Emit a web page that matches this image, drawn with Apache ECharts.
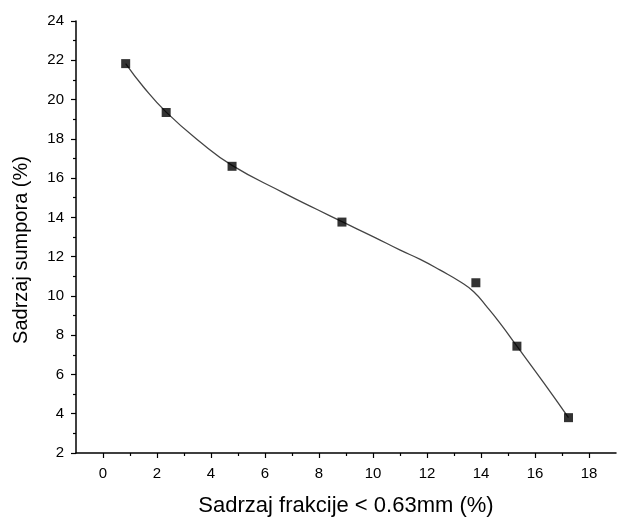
<!DOCTYPE html>
<html>
<head>
<meta charset="utf-8">
<script src="https://cdn.jsdelivr.net/npm/echarts@6/dist/echarts.min.js"></script>
<style>
html,body{margin:0;padding:0;background:#fff;}
#c{width:618px;height:519px;}
</style>
</head>
<body>
<div id="c"></div>
<script>
// Measured data points
const pointsX = [0.84, 2.34, 4.78, 8.85, 13.81, 15.33, 17.24];
const pointsY = [21.83, 19.34, 16.6, 13.76, 10.67, 7.44, 3.80];
// Fitted curve
const curveX = [0.84, 1.5, 2.34, 3.6, 4.78, 6.69, 7.93, 8.85, 10.02, 11.01, 11.75, 12.49, 13.23, 13.73, 14.22, 14.71, 15.33, 16.32, 17.24];
const curveY = [21.83, 20.64, 19.36, 17.84, 16.65, 15.25, 14.40, 13.78, 13.01, 12.33, 11.86, 11.31, 10.72, 10.21, 9.44, 8.60, 7.44, 5.58, 3.80];
// Axis ticks
const xMajorTicks = [0, 2, 4, 6, 8, 10, 12, 14, 16, 18];
const xMinorTicks = [1, 3, 5, 7, 9, 11, 13, 15, 17];

const chart = echarts.init(document.getElementById('c'), null, {renderer: 'canvas'});
const font = 'Liberation Sans, Arial, sans-serif';
const axisBase = {
  type: 'value', min: -1, max: 19, splitLine: {show: false}
};
chart.setOption({
  animation: false,
  backgroundColor: '#fff',
  grid: {left: 76, right: 2, top: 21, bottom: 66, containLabel: false, outerBoundsMode: 'none'},
  xAxis: [
    Object.assign({}, axisBase, {
      name: 'Sadrzaj frakcije < 0.63mm (%)',
      nameLocation: 'middle',
      nameGap: 42,
      nameTextStyle: {fontFamily: font, fontSize: 22, color: '#000'},
      axisLine: {show: true, onZero: false, lineStyle: {color: '#000', width: 1.5}},
      axisTick: {show: true, inside: false, length: 5, customValues: xMajorTicks, lineStyle: {color: '#000', width: 1.2}},
      axisLabel: {show: true, customValues: xMajorTicks, margin: 13, fontFamily: font, fontSize: 15, color: '#000'}
    }),
    Object.assign({}, axisBase, {
      position: 'bottom',
      axisLine: {show: false, onZero: false},
      axisTick: {show: true, inside: false, length: 3, customValues: xMinorTicks, lineStyle: {color: '#000', width: 1.2}},
      axisLabel: {show: false}
    })
  ],
  yAxis: {
    type: 'value', min: 2, max: 24, interval: 2,
    name: 'Sadrzaj sumpora (%)',
    nameLocation: 'middle',
    nameGap: 45,
    nameTextStyle: {fontFamily: font, fontSize: 20, color: '#000', padding: [0, 26, 0, 0]},
    splitLine: {show: false},
    axisLine: {show: true, onZero: false, lineStyle: {color: '#000', width: 1.5}},
    axisTick: {show: true, inside: false, length: 5, lineStyle: {color: '#000', width: 1.2}},
    minorTick: {show: true, splitNumber: 2, length: 3, lineStyle: {color: '#000', width: 1.2}},
    minorSplitLine: {show: false},
    axisLabel: {margin: 12, fontFamily: font, fontSize: 15, color: '#000'}
  },
  series: [
    {
      type: 'line',
      data: curveX.map((x, i) => [x, curveY[i]]),
      smooth: 0.5,
      showSymbol: false,
      symbol: 'none',
      lineStyle: {color: '#444', width: 1.3},
      z: 2
    },
    {
      type: 'scatter',
      data: pointsX.map((x, i) => [x, pointsY[i]]),
      symbol: 'rect',
      symbolSize: 9,
      itemStyle: {color: '#000'},
      z: 3
    }
  ]
});
</script>
</body>
</html>
